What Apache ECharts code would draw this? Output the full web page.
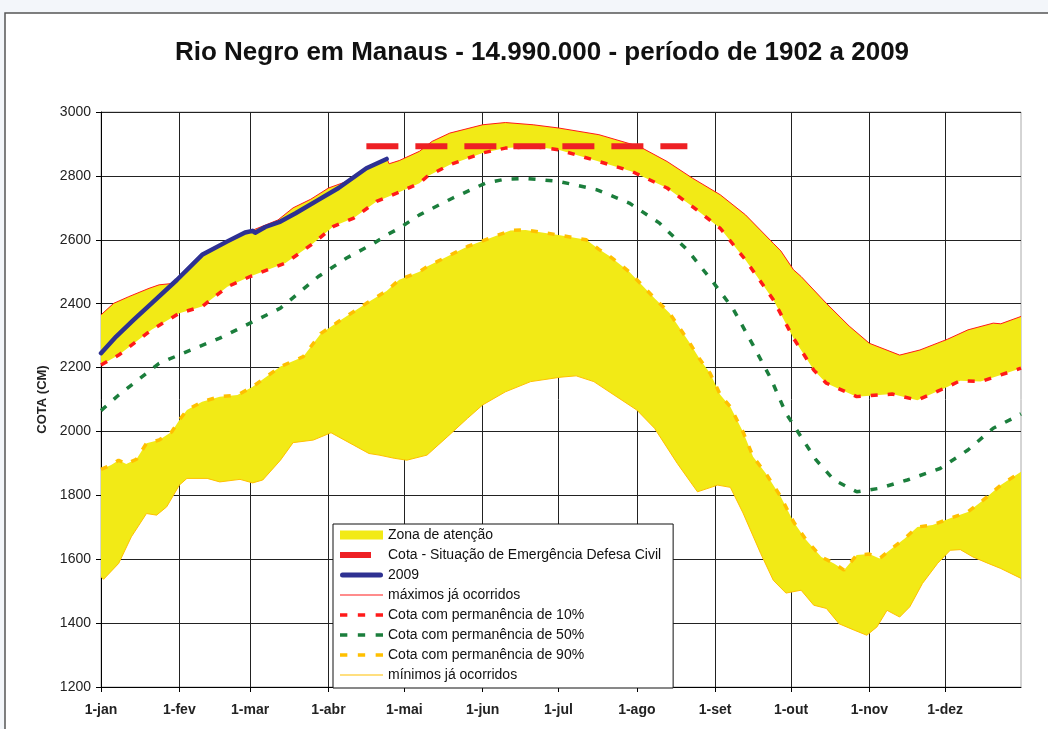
<!DOCTYPE html>
<html>
<head>
<meta charset="utf-8">
<script src="https://cdn.jsdelivr.net/npm/echarts@6/dist/echarts.min.js"></script>
<style>
html,body{margin:0;padding:0;background:#f3f6fa;}
#c{width:1048px;height:729px;}
</style>
</head>
<body>
<div id="c"></div>
<script>
// ---------------- data ----------------
const TITLE = 'Rio Negro em Manaus - 14.990.000 - período de 1902 a 2009';
const Y_NAME = 'COTA (CM)';
const MONTH_LABELS = ['1-jan','1-fev','1-mar','1-abr','1-mai','1-jun','1-jul','1-ago','1-set','1-out','1-nov','1-dez'];
const MONTH_START_DAYS = [0,31,59,90,120,151,181,212,243,273,304,334];
const DAY_COUNT = 365;
const Y_MIN = 1200, Y_MAX = 3000, Y_STEP = 200;

const SERIES_NAMES = {
  zona: 'Zona de atenção',
  emerg: 'Cota - Situação de Emergência Defesa Civil',
  y2009: '2009',
  max: 'máximos já ocorridos',
  p10: 'Cota com permanência de 10%',
  p50: 'Cota com permanência de 50%',
  p90: 'Cota com permanência de 90%',
  min: 'mínimos já ocorridos'
};

// [day of year, cota (cm)]
const emergencia = [[105,2893],[232,2893]];

const ano2009 = [[0,2245],[6,2297],[13,2350],[20,2401],[30,2474],[40,2553],[50,2595],[57,2623],[60,2628],[61,2622],[65,2640],[71,2657],[77,2683],[86,2725],[94,2762],[105,2824],[113,2853]];

const maximos = [[0,2365],[5,2401],[11,2422],[19,2448],[23,2459],[28,2463],[30,2474],[40,2553],[50,2597],[57,2625],[60,2630],[70,2662],[76,2700],[83,2727],[90,2762],[97,2782],[105,2826],[113,2856],[114,2838],[118,2848],[126,2877],[131,2908],[138,2934],[151,2960],[160,2967],[171,2960],[181,2950],[197,2929],[213,2892],[224,2845],[234,2793],[245,2741],[255,2678],[266,2589],[269,2565],[274,2506],[277,2485],[287,2401],[296,2330],[304,2276],[316,2239],[324,2255],[335,2289],[343,2318],[353,2339],[356,2337],[364,2360]];

const perm10 = [[0,2208],[7,2239],[20,2318],[31,2370],[40,2391],[50,2453],[59,2485],[73,2527],[84,2589],[92,2642],[100,2668],[109,2720],[117,2746],[126,2777],[129,2798],[138,2835],[151,2872],[160,2887],[171,2892],[181,2882],[197,2845],[210,2814],[224,2762],[234,2704],[245,2636],[255,2537],[266,2412],[274,2292],[282,2192],[287,2151],[299,2109],[313,2117],[323,2098],[335,2140],[340,2159],[348,2156],[356,2177],[364,2198]];

const perm50 = [[0,2065],[7,2114],[23,2213],[34,2250],[47,2292],[59,2339],[71,2386],[86,2485],[97,2542],[108,2589],[113,2615],[118,2636],[126,2678],[139,2730],[152,2777],[160,2790],[168,2792],[181,2783],[196,2757],[209,2715],[221,2652],[232,2568],[242,2469],[250,2385],[258,2270],[265,2166],[271,2057],[277,1983],[283,1910],[290,1848],[299,1811],[308,1822],[319,1848],[332,1884],[343,1942],[353,2010],[362,2046],[364,2055]];

const perm90 = [[0,1881],[4,1895],[7,1910],[10,1898],[14,1913],[18,1963],[23,1973],[28,1999],[31,2036],[34,2067],[40,2093],[47,2109],[54,2114],[60,2140],[71,2203],[80,2234],[87,2307],[94,2344],[105,2401],[113,2440],[118,2475],[126,2500],[129,2516],[145,2579],[162,2629],[168,2631],[181,2615],[192,2600],[197,2570],[201,2550],[209,2500],[219,2417],[225,2370],[233,2276],[237,2225],[241,2182],[245,2115],[249,2077],[254,1999],[258,1921],[263,1869],[269,1795],[274,1717],[279,1660],[285,1607],[290,1587],[294,1566],[299,1613],[304,1616],[308,1602],[312,1628],[318,1665],[323,1701],[329,1707],[336,1728],[343,1748],[349,1785],[356,1832],[364,1874]];

const minimos = [[0,1545],[1,1537],[7,1587],[12,1670],[18,1743],[22,1738],[26,1764],[31,1832],[34,1853],[42,1853],[47,1842],[55,1850],[60,1839],[64,1848],[71,1910],[76,1965],[84,1973],[91,1996],[100,1957],[106,1931],[110,1926],[116,1916],[121,1910],[129,1926],[137,1983],[145,2041],[151,2083],[160,2124],[170,2156],[182,2170],[188,2174],[195,2156],[203,2114],[212,2067],[219,2010],[228,1900],[236,1811],[244,1832],[249,1825],[254,1745],[261,1618],[266,1534],[271,1494],[277,1503],[282,1456],[287,1446],[292,1398],[298,1378],[303,1362],[307,1388],[311,1440],[316,1419],[320,1451],[325,1524],[331,1587],[336,1628],[340,1630],[345,1607],[351,1587],[356,1571],[364,1540]];

// ---------------- style ----------------
const FONT = '"Liberation Sans", Arial, sans-serif';
const YELLOW = '#F2EA16';
const RED = '#FF1A1A';
const EMERG_RED = '#EE2024';
const GREEN = '#1B7E3C';
const ORANGE = '#FFC000';
const BLUE = '#2E3192';

// legend icon shapes (drawn by the legend, sized to itemWidth)
const ICON_BAND = 'path://M0,0L43,0L43,9L0,9Z';
const ICON_EMERG = 'path://M0,0h31v6h-31z M42.9,5.9h0.1v0.1h-0.1z';
const ICON_THICK = 'path://M2.5,0h38a2.5,2.5 0 0 1 0,5h-38a2.5,2.5 0 0 1 0,-5z';
const ICON_THIN = 'path://M0,0h43v1.2h-43z';
const ICON_DASH = 'path://M0,0h7v3.5h-7z M17,0h7v3.5h-7z M34,0h7v3.5h-7z';

const dayCats = Array.from({length: DAY_COUNT}, (_, i) => String(i));
const isMonthStart = (i) => MONTH_START_DAYS.indexOf(i) >= 0;

function renderBand(params, api) {
  const pair = params.dataIndex === 0 ? [maximos, perm10] : [perm90, minimos];
  const upper = pair[0].map(p => api.coord(p));
  const lower = pair[1].slice().reverse().map(p => api.coord(p));
  return {
    type: 'polygon',
    shape: { points: upper.concat(lower) },
    style: { fill: YELLOW, stroke: null }
  };
}

const lineBase = { type: 'line', xAxisIndex: 1, yAxisIndex: 0, symbol: 'none', showSymbol: false, animation: false };

const option = {
  animation: false,
  graphic: [{
    type: 'rect', z: -100, silent: true,
    shape: { x: 5, y: 13, width: 1100, height: 800 },
    style: { fill: '#ffffff', stroke: '#555', lineWidth: 1.5 }
  }],
  title: {
    text: TITLE, left: 537, top: 35, textAlign: 'center',
    textStyle: { fontSize: 26, fontWeight: 'bold', color: '#111', fontFamily: FONT }
  },
  grid: { left: 101, right: 27, top: 112, bottom: 42, show: true, borderColor: '#aaa', borderWidth: 1 },
  legend: {
    orient: 'vertical', left: 333, top: 524,
    padding: [4, 12, 6, 7], itemGap: 6, itemWidth: 43, itemHeight: 14,
    backgroundColor: '#fff', borderColor: '#111', borderWidth: 1,
    textStyle: { fontSize: 14, color: '#111', fontFamily: FONT },
    data: [
      { name: SERIES_NAMES.zona, icon: ICON_BAND },
      { name: SERIES_NAMES.emerg, icon: ICON_EMERG },
      { name: SERIES_NAMES.y2009, icon: ICON_THICK },
      { name: SERIES_NAMES.max, icon: ICON_THIN },
      { name: SERIES_NAMES.p10, icon: ICON_DASH },
      { name: SERIES_NAMES.p50, icon: ICON_DASH },
      { name: SERIES_NAMES.p90, icon: ICON_DASH },
      { name: SERIES_NAMES.min, icon: ICON_THIN }
    ]
  },
  xAxis: [
    {
      type: 'category', data: dayCats, boundaryGap: false, position: 'bottom',
      axisLine: { lineStyle: { color: '#000', width: 1 } },
      axisTick: { interval: (i) => isMonthStart(i), length: 5, lineStyle: { color: '#000' } },
      axisLabel: {
        interval: (i) => isMonthStart(i),
        formatter: (v, i) => MONTH_LABELS[MONTH_START_DAYS.indexOf(i)] || '',
        fontWeight: 'bold', fontSize: 14, color: '#222', margin: 16, fontFamily: FONT
      },
      splitLine: { show: true, interval: (i) => isMonthStart(i), lineStyle: { color: '#222', width: 1 } }
    },
    { type: 'value', min: 0, max: DAY_COUNT - 1, show: false }
  ],
  yAxis: {
    type: 'value', min: Y_MIN, max: Y_MAX, interval: Y_STEP,
    name: Y_NAME, nameLocation: 'middle', nameGap: 47,
    nameTextStyle: { fontWeight: 'bold', fontSize: 13, color: '#222', fontFamily: FONT },
    axisLine: { show: true, lineStyle: { color: '#000' } },
    axisTick: { show: true, length: 5, lineStyle: { color: '#000' } },
    axisLabel: { fontSize: 14, color: '#222', margin: 10, fontFamily: FONT, formatter: (v) => String(v) },
    splitLine: { show: true, lineStyle: { color: '#222', width: 1 } }
  },
  series: [
    {
      name: SERIES_NAMES.zona, type: 'custom', xAxisIndex: 1, yAxisIndex: 0,
      renderItem: renderBand, itemStyle: { color: YELLOW },
      data: [[0, Y_MIN], [0, Y_MIN]], encode: { x: 0, y: 1 }, clip: true, z: 2
    },
    Object.assign({}, lineBase, { name: SERIES_NAMES.p50, data: perm50, lineStyle: { color: GREEN, width: 3.5, type: [7, 10] }, itemStyle: { color: GREEN }, z: 3 }),
    Object.assign({}, lineBase, { name: SERIES_NAMES.p10, data: perm10, lineStyle: { color: RED, width: 3.5, type: [7, 10] }, itemStyle: { color: RED }, z: 3 }),
    Object.assign({}, lineBase, { name: SERIES_NAMES.p90, data: perm90, lineStyle: { color: ORANGE, width: 3.5, type: [7, 10] }, itemStyle: { color: ORANGE }, z: 3 }),
    Object.assign({}, lineBase, { name: SERIES_NAMES.max, data: maximos, lineStyle: { color: RED, width: 1 }, itemStyle: { color: RED }, z: 4 }),
    Object.assign({}, lineBase, { name: SERIES_NAMES.min, data: minimos, lineStyle: { color: ORANGE, width: 1 }, itemStyle: { color: ORANGE }, z: 4 }),
    Object.assign({}, lineBase, { name: SERIES_NAMES.y2009, data: ano2009, lineStyle: { color: BLUE, width: 4.5, cap: 'round', join: 'round' }, itemStyle: { color: BLUE }, z: 5 }),
    Object.assign({}, lineBase, { name: SERIES_NAMES.emerg, data: emergencia, lineStyle: { color: EMERG_RED, width: 6, type: [32, 17] }, itemStyle: { color: EMERG_RED }, z: 6 })
  ]
};

const chart = echarts.init(document.getElementById('c'), null, { renderer: 'canvas' });
chart.setOption(option);
</script>
</body>
</html>
